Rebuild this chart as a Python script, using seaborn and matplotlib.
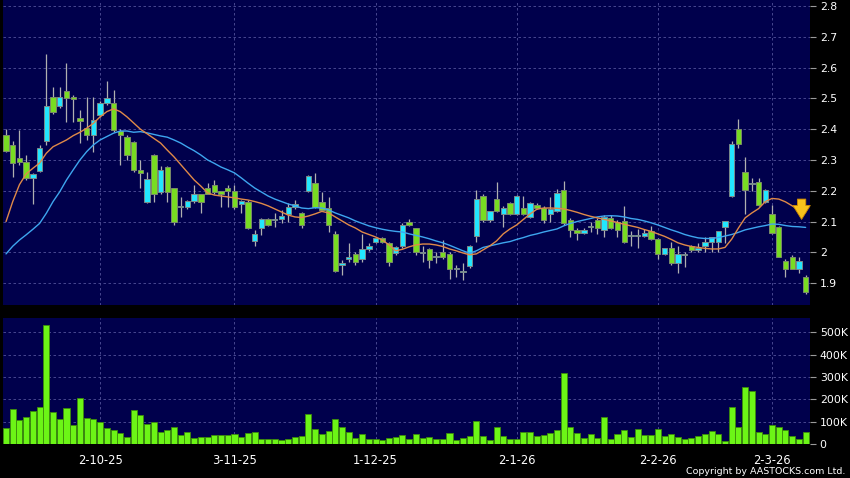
import numpy as np
import pandas as pd
import matplotlib
matplotlib.use("Agg")
import matplotlib.pyplot as plt
import seaborn as sns

# Daily OHLC, oldest first
opens = [2.38, 2.35, 2.305, 2.295, 2.24, 2.265, 2.36, 2.505, 2.475, 2.525,
         2.505, 2.435, 2.405, 2.38, 2.446, 2.484, 2.484, 2.394, 2.376, 2.357,
         2.268, 2.165, 2.316, 2.197, 2.276, 2.208, 2.148, 2.146, 2.167, 2.189,
         2.208, 2.219, 2.199, 2.208, 2.199, 2.157, 2.165, 2.038, 2.078, 2.107,
         2.105, 2.107, 2.125, 2.146, 2.127, 2.20, 2.226, 2.165, 2.143, 2.06,
         1.958, 1.977, 1.995, 1.977, 2.01, 2.032, 2.048, 2.03, 1.999, 2.021,
         2.097, 2.078, 1.997, 2.01, 1.984, 2.002, 1.995, 1.946, 1.937, 1.956,
         2.053, 2.183, 2.105, 2.172, 2.124, 2.161, 2.124, 2.143, 2.116, 2.154,
         2.143, 2.124, 2.133, 2.203, 2.105, 2.073, 2.062, 2.083, 2.105, 2.073,
         2.113, 2.10, 2.102, 2.053, 2.053, 2.053, 2.069, 2.043, 1.994, 2.013,
         1.965, 1.99, 2.021, 2.006, 2.022, 2.033, 2.033, 2.081, 2.183, 2.40,
         2.262, 2.222, 2.23, 2.165, 2.124, 2.081, 1.973, 1.984, 1.945, 1.921]
highs = [2.40, 2.36, 2.397, 2.316, 2.258, 2.35, 2.643, 2.538, 2.538, 2.614,
         2.51, 2.462, 2.506, 2.506, 2.49, 2.556, 2.527, 2.40, 2.38, 2.36,
         2.30, 2.26, 2.32, 2.28, 2.28, 2.21, 2.18, 2.17, 2.219, 2.19,
         2.224, 2.236, 2.20, 2.219, 2.219, 2.17, 2.17, 2.073, 2.11, 2.11,
         2.128, 2.138, 2.16, 2.17, 2.13, 2.25, 2.259, 2.197, 2.18, 2.07,
         1.975, 2.03, 2.0, 2.06, 2.03, 2.05, 2.05, 2.035, 2.02, 2.095,
         2.107, 2.08, 2.02, 2.015, 2.002, 2.04, 2.0, 1.96, 1.965, 2.025,
         2.203, 2.19, 2.135, 2.23, 2.15, 2.165, 2.185, 2.183, 2.165, 2.16,
         2.15, 2.18, 2.205, 2.232, 2.11, 2.08, 2.08, 2.10, 2.11, 2.12,
         2.12, 2.105, 2.15, 2.07, 2.075, 2.075, 2.085, 2.045, 2.015, 2.035,
         2.019, 2.0, 2.025, 2.03, 2.05, 2.051, 2.07, 2.103, 2.36, 2.432,
         2.311, 2.24, 2.24, 2.205, 2.154, 2.085, 1.98, 1.99, 1.985, 1.927]
lows = [2.326, 2.246, 2.284, 2.236, 2.157, 2.26, 2.35, 2.45, 2.47, 2.424,
        2.424, 2.355, 2.365, 2.327, 2.44, 2.48, 2.39, 2.284, 2.30, 2.26,
        2.209, 2.16, 2.165, 2.19, 2.165, 2.089, 2.116, 2.14, 2.16, 2.127,
        2.19, 2.19, 2.148, 2.148, 2.14, 2.127, 2.075, 2.019, 2.055, 2.085,
        2.083, 2.095, 2.10, 2.14, 2.078, 2.195, 2.145, 2.135, 2.067, 1.935,
        1.927, 1.97, 1.96, 1.97, 2.005, 2.03, 2.03, 1.956, 1.99, 2.015,
        2.085, 1.99, 1.97, 1.95, 1.965, 1.98, 1.913, 1.92, 1.91, 1.95,
        2.032, 2.10, 2.10, 2.13, 2.083, 2.12, 2.12, 2.12, 2.11, 2.14,
        2.095, 2.10, 2.13, 2.09, 2.05, 2.04, 2.06, 2.065, 2.06, 2.05,
        2.075, 2.05, 2.03, 2.02, 2.015, 2.05, 2.04, 1.98, 1.99, 1.96,
        1.934, 1.953, 2.0, 2.0, 2.0, 2.0, 2.0, 2.03, 2.18, 2.34,
        2.125, 2.198, 2.15, 2.16, 2.06, 1.985, 1.921, 1.945, 1.933, 1.865]
closes = [2.33, 2.29, 2.295, 2.24, 2.255, 2.34, 2.475, 2.455, 2.505, 2.50,
          2.497, 2.425, 2.38, 2.43, 2.484, 2.50, 2.397, 2.38, 2.316, 2.268,
          2.257, 2.237, 2.19, 2.268, 2.197, 2.10, 2.148, 2.167, 2.189, 2.165,
          2.19, 2.197, 2.189, 2.199, 2.146, 2.167, 2.078, 2.059, 2.107, 2.089,
          2.105, 2.118, 2.146, 2.157, 2.089, 2.248, 2.148, 2.138, 2.089, 1.94,
          1.967, 1.986, 1.968, 2.01, 2.021, 2.048, 2.032, 1.968, 2.016, 2.089,
          2.089, 2.0, 1.997, 1.975, 1.984, 1.984, 1.945, 1.946, 1.937, 2.021,
          2.172, 2.105, 2.133, 2.133, 2.143, 2.124, 2.183, 2.124, 2.161, 2.143,
          2.105, 2.14, 2.192, 2.094, 2.073, 2.062, 2.073, 2.083, 2.08, 2.116,
          2.08, 2.073, 2.033, 2.053, 2.053, 2.062, 2.043, 1.994, 2.013, 1.965,
          1.994, 1.99, 2.006, 2.013, 2.033, 2.051, 2.07, 2.103, 2.351, 2.351,
          2.203, 2.222, 2.154, 2.203, 2.062, 1.986, 1.945, 1.945, 1.973, 1.872]

# Moving averages as drawn on the chart
ma_short = [2.10, 2.165, 2.22, 2.255, 2.273, 2.29, 2.322, 2.343, 2.354, 2.365,
            2.379, 2.39, 2.403, 2.419, 2.44, 2.457, 2.466, 2.457, 2.44, 2.42,
            2.40, 2.385, 2.37, 2.355, 2.332, 2.31, 2.285, 2.26, 2.235, 2.215,
            2.193, 2.186, 2.183, 2.18, 2.177, 2.173, 2.17, 2.165, 2.159, 2.151,
            2.141, 2.131, 2.121, 2.115, 2.113, 2.118, 2.125, 2.133, 2.128, 2.115,
            2.102, 2.089, 2.079, 2.066, 2.058, 2.05, 2.04, 2.024, 2.005, 2.01,
            2.018, 2.024, 2.027, 2.027, 2.024, 2.019, 2.011, 2.005, 1.998, 1.992,
            1.995, 2.008, 2.021, 2.037, 2.06, 2.076, 2.089, 2.107, 2.125, 2.14,
            2.144, 2.144, 2.143, 2.141, 2.136, 2.13, 2.123, 2.117, 2.112, 2.107,
            2.102, 2.097, 2.091, 2.086, 2.081, 2.074, 2.068, 2.06, 2.052, 2.042,
            2.031, 2.024, 2.019, 2.016, 2.013, 2.011, 2.011, 2.016, 2.043, 2.079,
            2.112, 2.128, 2.142, 2.165, 2.175, 2.173, 2.164, 2.151, 2.138, 2.13]
ma_long = [1.995, 2.02, 2.04, 2.057, 2.075, 2.094, 2.127, 2.165, 2.197, 2.235,
           2.268, 2.30, 2.327, 2.349, 2.365, 2.376, 2.387, 2.394, 2.394, 2.39,
           2.392, 2.388, 2.383, 2.378, 2.374, 2.365, 2.355, 2.342, 2.33, 2.316,
           2.30, 2.289, 2.277, 2.268, 2.258, 2.242, 2.225, 2.209, 2.196, 2.183,
           2.173, 2.165, 2.157, 2.151, 2.144, 2.142, 2.145, 2.144, 2.138, 2.128,
           2.12, 2.112, 2.102, 2.094, 2.086, 2.08, 2.075, 2.071, 2.068, 2.066,
           2.06, 2.055, 2.05, 2.044, 2.037, 2.031, 2.023, 2.014, 2.005, 1.997,
           2.005, 2.016, 2.021, 2.026, 2.031, 2.035, 2.042, 2.048, 2.055, 2.06,
           2.066, 2.071, 2.076, 2.086, 2.094, 2.1, 2.105, 2.11, 2.115, 2.118,
           2.119, 2.118, 2.115, 2.11, 2.107, 2.102, 2.096, 2.089, 2.081, 2.073,
           2.066, 2.058, 2.052, 2.047, 2.045, 2.045, 2.048, 2.053, 2.058, 2.065,
           2.073, 2.078, 2.083, 2.087, 2.092, 2.091, 2.087, 2.084, 2.083, 2.081]

# Volume (shares)
volume = [71e3, 159e3, 108e3, 120e3, 150e3, 168e3, 533e3, 144e3, 110e3, 162e3,
          86e3, 207e3, 116e3, 114e3, 99e3, 71e3, 65e3, 50e3, 33e3, 153e3,
          132e3, 90e3, 100e3, 56e3, 65e3, 78e3, 42e3, 53e3, 27e3, 32e3,
          32e3, 39e3, 39e3, 42e3, 45e3, 33e3, 48e3, 53e3, 23e3, 23e3,
          23e3, 20e3, 21e3, 33e3, 38e3, 135e3, 69e3, 47e3, 57e3, 111e3,
          75e3, 54e3, 27e3, 47e3, 23e3, 23e3, 20e3, 29e3, 30e3, 39e3,
          23e3, 47e3, 27e3, 30e3, 24e3, 24e3, 51e3, 18e3, 27e3, 36e3,
          105e3, 36e3, 18e3, 78e3, 38e3, 23e3, 24e3, 54e3, 54e3, 35e3,
          39e3, 51e3, 63e3, 320e3, 74e3, 50e3, 29e3, 44e3, 26e3, 122e3,
          23e3, 47e3, 63e3, 33e3, 66e3, 42e3, 39e3, 68e3, 38e3, 47e3,
          32e3, 21e3, 27e3, 38e3, 45e3, 60e3, 45e3, 15e3, 165e3, 78e3,
          254e3, 239e3, 56e3, 45e3, 83e3, 78e3, 65e3, 38e3, 23e3, 53e3]

date_labels = ["2-10-25", "3-11-25", "1-12-25", "2-1-26", "2-2-26", "2-3-26"]
date_pos = [14, 34, 55, 76, 97, 114]
price_ticks = [1.9, 2.0, 2.1, 2.2, 2.3, 2.4, 2.5, 2.6, 2.7, 2.8]
price_labels = ["1.9", "2", "2.1", "2.2", "2.3", "2.4", "2.5", "2.6", "2.7", "2.8"]
vol_ticks = [0, 100e3, 200e3, 300e3, 400e3, 500e3]
vol_labels = ["0", "100K", "200K", "300K", "400K", "500K"]

df = pd.DataFrame({"open": opens, "high": highs, "low": lows, "close": closes,
                   "ma10": ma_short, "ma20": ma_long, "volume": volume})
df["idx"] = np.arange(len(df))
up = df["close"] >= df["open"]

sns.set_style("dark")
plt.rcParams["font.family"] = ["DejaVu Sans"]

bg = "#00004c"
grid_kw = dict(color="#52529a", linestyle=(0, (3, 3)), linewidth=0.6)

fig = plt.figure(figsize=(8.5, 4.78), dpi=100, facecolor="black")
ax1 = fig.add_axes([3 / 850, 173 / 478, 807 / 850, 305 / 478])
ax2 = fig.add_axes([3 / 850, 34 / 478, 807 / 850, 126 / 478])

for ax in (ax1, ax2):
    ax.set_facecolor(bg)
    for s in ax.spines.values():
        s.set_visible(False)
    ax.yaxis.tick_right()
    ax.tick_params(axis="y", colors="#9a9a9a", labelcolor="white", length=4,
                   width=0.8, labelsize=7.8, pad=3, direction="out")
    ax.set_xlim(-0.45, 119.65)
    ax.set_axisbelow(True)
    ax.grid(False)
    for p in date_pos:
        ax.axvline(p, zorder=0, **grid_kw)

# price panel
for t in price_ticks:
    ax1.axhline(t, zorder=0, **grid_kw)

ax1.vlines(df["idx"], df["low"], df["high"], color="#b0b0b0", linewidth=0.9, zorder=2)
body = (df["close"] - df["open"]).abs().clip(lower=0.004)
bottom = df[["open", "close"]].min(axis=1)
ax1.bar(df["idx"][up], body[up], bottom=bottom[up], width=0.8,
        color="#22e6ff", edgecolor="#7a8a8a", linewidth=0.7, zorder=3)
ax1.bar(df["idx"][~up], body[~up], bottom=bottom[~up], width=0.8,
        color="#78dc22", edgecolor="#7a8a6a", linewidth=0.7, zorder=3)

sns.lineplot(data=df, x="idx", y="ma20", ax=ax1, color="#3ea6ef", linewidth=1.0, zorder=4)
sns.lineplot(data=df, x="idx", y="ma10", ax=ax1, color="#e08a48", linewidth=1.0, zorder=4)

ax1.annotate("", xy=(118.4, 2.098), xytext=(118.4, 2.182),
             arrowprops=dict(arrowstyle="simple,head_width=1.25,head_length=1.0,tail_width=0.6",
                             fc="#f8c21c", ec="#d08a00", lw=0.6), zorder=6)

ax1.set_ylim(1.829, 2.8195)
ax1.set_yticks(price_ticks)
ax1.set_yticklabels(price_labels)
ax1.set_xticks([])
ax1.set_xlabel("")
ax1.set_ylabel("")

# volume panel
for t in vol_ticks[1:]:
    ax2.axhline(t, zorder=0, **grid_kw)
sns.barplot(data=df, x="idx", y="volume", ax=ax2, color="#6cf516", width=0.9,
            edgecolor="#3d8c0a", linewidth=0.6, errorbar=None, saturation=1, zorder=3)
ax2.set_xlim(-0.45, 119.65)
ax2.set_ylim(0, 565e3)
ax2.set_yticks(vol_ticks)
ax2.set_yticklabels(vol_labels)
ax2.set_xticks(date_pos)
ax2.set_xticklabels(date_labels)
ax2.tick_params(axis="x", colors="#9a9a9a", labelcolor="white", length=3,
                width=0.8, labelsize=8.3, pad=4)
ax2.set_xlabel("")
ax2.set_ylabel("")

fig.text(0.995, 0.004, "Copyright by AASTOCKS.com Ltd.", ha="right", va="bottom",
         color="white", fontsize=6.8)

fig.savefig("out.png", dpi=100, facecolor="black")
